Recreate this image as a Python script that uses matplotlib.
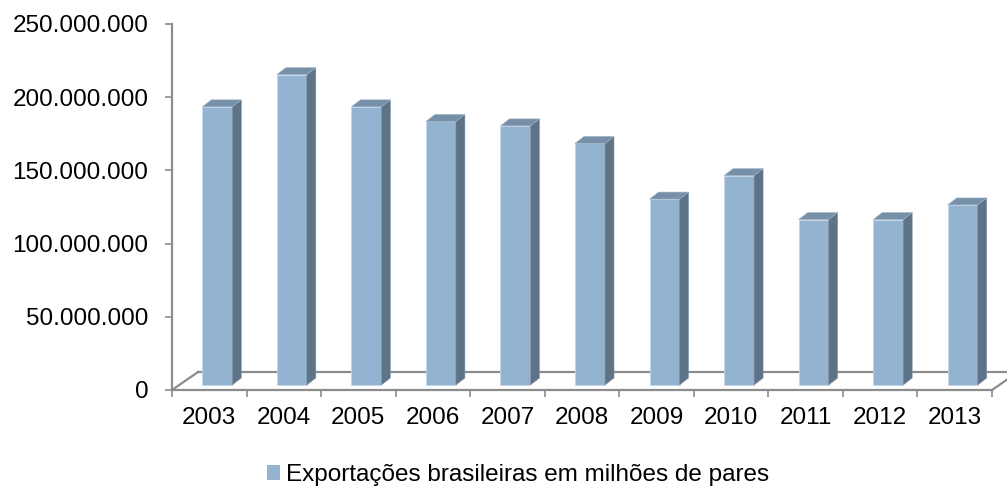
import numpy as np
import matplotlib
matplotlib.use("Agg")
import matplotlib.pyplot as plt
from matplotlib.patches import Polygon, Patch

plt.rcParams["font.family"] = ["Liberation Sans", "DejaVu Sans"]

years = ["2003", "2004", "2005", "2006", "2007", "2008",
         "2009", "2010", "2011", "2012", "2013"]
pairs = [190e6, 212e6, 190e6, 180e6, 177e6, 165e6,
         127e6, 143e6, 113e6, 113e6, 123e6]
y_ticks = [0, 50e6, 100e6, 150e6, 200e6, 250e6]
legend_label = "Exportações brasileiras em milhões de pares"

FRONT = "#93b3d1"
SIDE = "#5e7386"
TOP = "#7690a9"
GRID = "#8c8c8c"
FS = 17.5

W, H = 1007, 488
fig = plt.figure(figsize=(W / 100, H / 100), dpi=100)
# axes placed in pixel terms of the reference
ax = fig.add_axes([172 / W, (H - 390) / H, 820 / W, 366 / H])
n = len(years)
ax.set_xlim(0, n)
ax.set_ylim(0, 250e6)

# data units per pixel
px = n / 820
py = 250e6 / 366

# floor (3d base) outline
fdx, fdy = 26 * px, 18 * py
kw = dict(color=GRID, lw=1.6, clip_on=False, zorder=1)
ax.plot([0, fdx], [0, fdy], **kw)
ax.plot([fdx, n + fdx], [fdy, fdy], **kw)
ax.plot([n, n + fdx], [0, fdy], **kw)
ax.plot([0, n], [0, 0], **kw)
ax.plot([0, 0], [0, 250e6], **kw)

# bars: front faces at a small depth into the floor
x = np.arange(n) + 0.5 + 8 * px
base = 5 * py
bw = 30 * px
ax.bar(x, pairs, width=bw, bottom=base, color=FRONT,
       edgecolor="#c5d6e6", linewidth=0.6, zorder=3, clip_on=False)

ddx, ddy = 9 * px, 7 * py
for xi, v in zip(x, pairs):
    xl, xr = xi - bw / 2, xi + bw / 2
    top = base + v
    ax.add_patch(Polygon([(xr, base), (xr + ddx, base + ddy),
                          (xr + ddx, top + ddy), (xr, top)],
                         closed=True, facecolor=SIDE, edgecolor="#8096aa",
                         lw=0.4, zorder=3, clip_on=False))
    ax.add_patch(Polygon([(xl, top), (xr, top), (xr + ddx, top + ddy),
                          (xl + ddx, top + ddy)],
                         closed=True, facecolor=TOP, edgecolor="#9fb3c6",
                         lw=0.4, zorder=3, clip_on=False))

for s in ax.spines.values():
    s.set_visible(False)

ax.set_yticks(y_ticks)
ax.set_yticklabels([f"{int(v):,}".replace(",", ".") for v in y_ticks])
ax.set_xticks(np.arange(n + 1))
ax.set_xticklabels([])
ax.set_xticks(np.arange(n) + 0.5, minor=True)
ax.set_xticklabels(years, minor=True)
ax.tick_params(axis="y", length=5, width=1.2, color=GRID, pad=12,
               labelsize=FS)
ax.tick_params(axis="x", which="major", length=5, width=1.2, color=GRID)
ax.tick_params(axis="x", which="minor", length=0, pad=12, labelsize=FS)

fig.legend(handles=[Patch(facecolor=FRONT, label=legend_label)],
           loc="center left", bbox_to_anchor=(267 / W, 1 - 475 / H),
           frameon=False, fontsize=FS, handlelength=0.55,
           handleheight=0.55, handletextpad=0.25, borderpad=0,
           borderaxespad=0)

fig.savefig("out.png", dpi=100)
